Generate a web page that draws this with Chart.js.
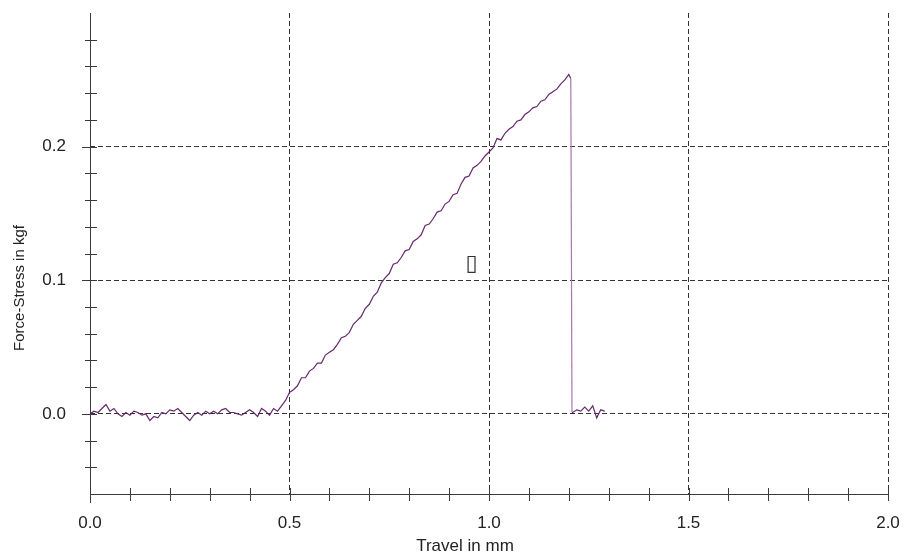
<!DOCTYPE html>
<html>
<head>
<meta charset="utf-8">
<script src="https://cdn.jsdelivr.net/npm/chart.js@4.4.1/dist/chart.umd.min.js"></script>
<style>
  html, body { margin: 0; padding: 0; background: #ffffff; }
  #chart { display: block; }
</style>
</head>
<body>
<canvas id="chart" width="905" height="557"></canvas>
<script>
const travel = [
  0.00, 0.01, 0.02, 0.03, 0.04, 0.05, 0.06, 0.07, 0.08, 0.09,
  0.10, 0.11, 0.12, 0.13, 0.14, 0.15, 0.16, 0.17, 0.18, 0.19,
  0.20, 0.21, 0.22, 0.23, 0.24, 0.25, 0.26, 0.27, 0.28, 0.29,
  0.30, 0.31, 0.32, 0.33, 0.34, 0.35, 0.36, 0.37, 0.38, 0.39,
  0.40, 0.41, 0.42, 0.43, 0.44, 0.45, 0.46, 0.47, 0.48, 0.49,
  0.50, 0.51, 0.52, 0.53, 0.54, 0.55, 0.56, 0.57, 0.58, 0.59,
  0.60, 0.61, 0.62, 0.63, 0.64, 0.65, 0.66, 0.67, 0.68, 0.69,
  0.70, 0.71, 0.72, 0.73, 0.74, 0.75, 0.76, 0.77, 0.78, 0.79,
  0.80, 0.81, 0.82, 0.83, 0.84, 0.85, 0.86, 0.87, 0.88, 0.89,
  0.90, 0.91, 0.92, 0.93, 0.94, 0.95, 0.96, 0.97, 0.98, 0.99,
  1.00, 1.01, 1.02, 1.03, 1.04, 1.05, 1.06, 1.07, 1.08, 1.09,
  1.10, 1.11, 1.12, 1.13, 1.14, 1.15, 1.16, 1.17, 1.18, 1.19,
  1.20, 1.205, 1.208,
  1.21, 1.22, 1.23, 1.24, 1.25, 1.26, 1.27, 1.28, 1.29
];
const force = [
  0.000, 0.002, 0.001, 0.004, 0.007, 0.002, 0.004, 0.000, -0.002, 0.001,
  -0.001, 0.002, 0.001, -0.001, 0.000, -0.005, -0.002, -0.003, 0.001, 0.000,
  0.003, 0.002, 0.004, 0.001, -0.002, -0.005, -0.001, 0.001, -0.001, 0.002,
  0.000, 0.002, 0.000, 0.003, 0.004, 0.001, 0.001, 0.000, -0.001, 0.001,
  0.003, 0.001, -0.002, 0.004, 0.002, -0.001, 0.004, 0.002, 0.006, 0.010,
  0.016, 0.018, 0.021, 0.027, 0.027, 0.032, 0.034, 0.038, 0.038, 0.044,
  0.046, 0.048, 0.052, 0.057, 0.058, 0.061, 0.067, 0.070, 0.073, 0.079,
  0.082, 0.088, 0.091, 0.098, 0.102, 0.105, 0.112, 0.113, 0.117, 0.122,
  0.123, 0.129, 0.131, 0.134, 0.141, 0.142, 0.146, 0.151, 0.152, 0.157,
  0.159, 0.164, 0.165, 0.172, 0.177, 0.178, 0.184, 0.186, 0.189, 0.193,
  0.196, 0.199, 0.206, 0.205, 0.210, 0.213, 0.215, 0.219, 0.220, 0.224,
  0.226, 0.229, 0.230, 0.234, 0.235, 0.239, 0.241, 0.243, 0.247, 0.250,
  0.254, 0.251, 0.001,
  0.001, 0.003, 0.002, 0.005, 0.002, 0.006, -0.003, 0.003, 0.002
];

const xMajor = [0.0, 0.5, 1.0, 1.5, 2.0];
const yMajor = [0.0, 0.1, 0.2];
const xTitle = "Travel in mm";
const yTitle = "Force-Stress in kgf";
const strayGlyph = "\u25AF";   // the unrendered character box in the plot

const FONT = "'Liberation Sans', Arial, sans-serif";
const AXIS = "#3a3a3a";

const isMajor = (list, v) => list.some(m => Math.abs(m - v) < 1e-6);

// axis lines with ticks crossing them, titles and the stray glyph
const axisDecor = {
  id: "axisDecor",
  afterDraw(chart) {
    const ctx = chart.ctx;
    const xs = chart.scales.x, ys = chart.scales.y;
    const left = xs.left, bottom = ys.bottom;
    ctx.save();
    ctx.strokeStyle = AXIS;
    ctx.lineWidth = 1;
    ctx.beginPath();
    ctx.moveTo(left + 0.5, ys.top);
    ctx.lineTo(left + 0.5, bottom + 9);
    ctx.moveTo(left, bottom + 0.5);
    ctx.lineTo(xs.right, bottom + 0.5);
    xs.ticks.forEach(t => {
      if (t.value < 0.05) return;
      const px = Math.round(xs.getPixelForValue(t.value)) + 0.5;
      ctx.moveTo(px, bottom - 6);
      ctx.lineTo(px, bottom + 7);
    });
    ys.ticks.forEach(t => {
      if (t.value < -0.05 || t.value > 0.29) return;
      const py = Math.round(ys.getPixelForValue(t.value)) + 0.5;
      const out = isMajor(yMajor, t.value) ? 8 : 5;
      ctx.moveTo(left - out, py);
      ctx.lineTo(left + 7, py);
    });
    ctx.stroke();

    ctx.fillStyle = "#222";
    ctx.textAlign = "center";
    ctx.textBaseline = "middle";
    ctx.font = "17px " + FONT;
    ctx.fillText(xTitle, 465, 546);
    ctx.font = "15px " + FONT;
    ctx.translate(20, 288);
    ctx.rotate(-Math.PI / 2);
    ctx.fillText(yTitle, 0, 0);
    ctx.restore();

    ctx.save();
    ctx.fillStyle = "#333";
    ctx.font = "22px 'DejaVu Sans'";
    ctx.textAlign = "center";
    ctx.textBaseline = "middle";
    ctx.fillText(strayGlyph, xs.getPixelForValue(0.956), ys.getPixelForValue(0.112));
    ctx.restore();
  }
};

new Chart(document.getElementById("chart"), {
  type: "line",
  data: {
    datasets: [{
      data: travel.map((t, i) => ({ x: t, y: force[i] })),
      borderColor: "#662a6c",
      borderWidth: 1.2,
      pointRadius: 0,
      tension: 0,
      segment: {
        borderColor: c => (c.p1.parsed.y - c.p0.parsed.y < -0.1 ? "#a57bab" : undefined)
      }
    }]
  },
  options: {
    responsive: false,
    animation: false,
    layout: { padding: { top: 13, right: 17, left: 0, bottom: 0 } },
    plugins: { legend: { display: false }, tooltip: { enabled: false } },
    scales: {
      x: {
        type: "linear",
        min: 0, max: 2,
        afterFit: s => { s.height = 63; s.paddingLeft = 0; s.paddingRight = 0; },
        ticks: {
          stepSize: 0.1,
          autoSkip: false,
          maxRotation: 0,
          padding: 19,
          color: "#222",
          font: { family: FONT, size: 17 },
          callback: v => (isMajor(xMajor, v) ? v.toFixed(1) : "")
        },
        grid: {
          drawTicks: false,
          color: c => (c.tick && isMajor(xMajor, c.tick.value) && c.tick.value > 0 ? "#333" : "transparent")
        },
        border: { display: false, dash: [5, 3] }
      },
      y: {
        type: "linear",
        min: -0.06, max: 0.3,
        afterFit: s => { s.width = 90; s.paddingTop = 0; s.paddingBottom = 0; },
        ticks: {
          stepSize: 0.02,
          autoSkip: false,
          padding: 24,
          color: "#222",
          font: { family: FONT, size: 17 },
          callback: v => (isMajor(yMajor, v) ? v.toFixed(1) : "")
        },
        grid: {
          drawTicks: false,
          color: c => (c.tick && isMajor(yMajor, c.tick.value) ? "#333" : "transparent")
        },
        border: { display: false, dash: [5, 3] }
      }
    }
  },
  plugins: [axisDecor]
});
</script>
</body>
</html>
